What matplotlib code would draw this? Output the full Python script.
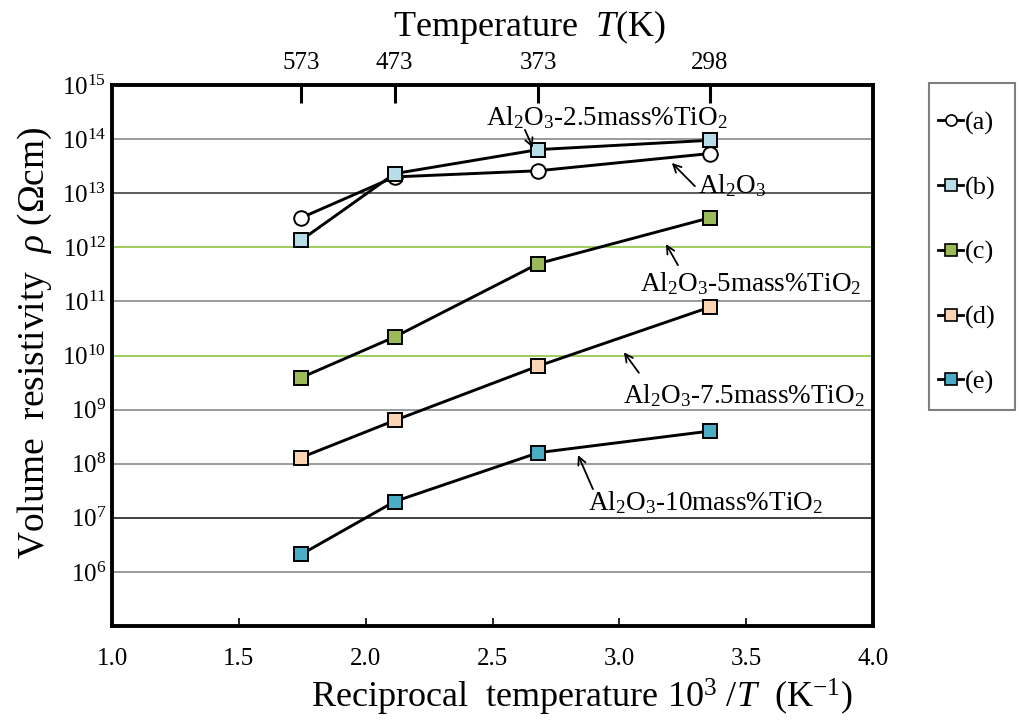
import numpy as np
import matplotlib
matplotlib.use("Agg")
import matplotlib.pyplot as plt
from matplotlib.lines import Line2D
from matplotlib.patches import Rectangle

plt.rcParams["font.family"] = ["Liberation Serif", "DejaVu Serif"]
plt.rcParams["mathtext.fontset"] = "custom"
plt.rcParams["mathtext.rm"] = "Liberation Serif"
plt.rcParams["mathtext.it"] = "Liberation Serif:italic"

# measurement temperatures (K) and reciprocal 10^3/T
temps = [573, 473, 373, 298]
recip = [1000.0 / t for t in temps]

# volume resistivity (ohm cm)
rho_a = [3.5e12, 2.0e13, 2.6e13, 5.4e13]   # Al2O3
rho_b = [1.35e12, 2.3e13, 6.4e13, 9.5e13]  # 2.5 mass% TiO2
rho_c = [3.9e9, 2.2e10, 5.0e11, 3.5e12]    # 5 mass% TiO2
rho_d = [1.3e8, 6.3e8, 6.4e9, 7.8e10]      # 7.5 mass% TiO2
rho_e = [2.1e6, 2.0e7, 1.6e8, 4.0e8]       # 10 mass% TiO2

series_labels = ["(a)", "(b)", "(c)", "(d)", "(e)"]
series_data = [rho_a, rho_b, rho_c, rho_d, rho_e]
markers = ["o", "s", "s", "s", "s"]
colors = ["white", "#b7dde8", "#9bbb59", "#fbd4b4", "#4bacc6"]

decades = list(range(6, 16))
x_ticks = [1.5, 2.0, 2.5, 3.0, 3.5]
x_ticklabels = ["1.0", "1.5", "2.0", "2.5", "3.0", "3.5", "4.0"]

fig = plt.figure(figsize=(10.19, 7.22), dpi=100)
ax = fig.add_axes([112 / 1019, 1 - 626 / 722, 761 / 1019, 541 / 722])
ax.set_xlim(1.0, 4.0)
ax.set_yscale("log")
ax.set_ylim(1e5, 1e15)

# horizontal grid lines, two of them highlighted in green
grid_col = {12: "#8cc63f", 10: "#8cc63f", 13: "#404040", 7: "#202020"}
for d in decades[:-1]:
    ax.axhline(10.0 ** d, color=grid_col.get(d, "#8a8a8a"), lw=1.2, zorder=1)

for y, m, c in zip(series_data, markers, colors):
    ax.plot(recip, y, "-", color="black", lw=2.1, marker=m, ms=10.5,
            mfc=c, mec="black", mew=1.4, zorder=3)

for s in ax.spines.values():
    s.set_linewidth(2.8)

ax.yaxis.set_major_locator(matplotlib.ticker.FixedLocator([10.0 ** d for d in decades]))
ax.yaxis.set_minor_locator(matplotlib.ticker.NullLocator())
ax.set_yticklabels([r"$10^{%d}$" % d for d in decades])
ax.tick_params(axis="y", length=0, labelsize=18, pad=4)

ax.set_xticks([1.0] + x_ticks + [4.0])
ax.set_xticklabels(x_ticklabels)
ax.tick_params(axis="x", direction="in", length=6, width=1.2, labelsize=18, pad=16)

# top axis in temperature
top = ax.twiny()
top.set_xlim(ax.get_xlim())
top.set_xticks(recip)
top.set_xticklabels([str(t) for t in temps])
top.tick_params(axis="x", direction="in", length=13, width=2.2, labelsize=18, pad=8)
for s in top.spines.values():
    s.set_visible(False)

# labels
fig.text(530 / 1019, 1 - 27 / 722, r"Temperature  $T$(K)", ha="center", va="center", fontsize=26)
fig.text(582 / 1019, 1 - 697 / 722, r"Reciprocal  temperature 10$^3$ /$T$  (K$^{-1}$)",
         ha="center", va="center", fontsize=26)
fig.text(35 / 1019, 1 - 343 / 722, r"Volume  resistivity  $\rho$ (Ωcm)",
         ha="center", va="center", rotation=90, fontsize=27)

# curve annotations: (text, text pos, arrow tail, arrow head) in data coords
notes = [
    (r"Al$_2$O$_3$-2.5mass%TiO$_2$", (2.951, 14.39), (2.628, 14.17), (2.659, 13.84)),
    (r"Al$_2$O$_3$", (3.444, 13.14), (3.298, 13.13), (3.207, 13.56)),
    (r"Al$_2$O$_3$-5mass%TiO$_2$", (3.519, 11.33), (3.231, 11.67), (3.184, 12.06)),
    (r"Al$_2$O$_3$-7.5mass%TiO$_2$", (3.491, 9.26), (3.077, 9.68), (3.018, 10.06)),
    (r"Al$_2$O$_3$-10mass%TiO$_2$", (3.341, 7.28), (2.896, 7.53), (2.837, 8.16)),
]
for txt, tp, tail, head in notes:
    ax.text(tp[0], 10 ** tp[1], txt, ha="center", va="center", fontsize=19.5, zorder=5)
    ax.annotate("", xy=(head[0], 10 ** head[1]), xytext=(tail[0], 10 ** tail[1]),
                arrowprops=dict(arrowstyle="->", color="black", lw=1.3,
                                shrinkA=0, shrinkB=0, mutation_scale=14), zorder=5)

# legend without its own frame, boxed by a separate rectangle
handles = [Line2D([0], [0], color="black", lw=2.0, marker=m, ms=8, mfc=c,
                  mec="black", mew=1.2) for m, c in zip(markers, colors)]
leg = fig.legend(handles, series_labels, loc="upper left",
                 bbox_to_anchor=(938 / 1019, 1 - 111 / 722), fontsize=19,
                 handlelength=0.95, handletextpad=0.05, labelspacing=1.55,
                 borderpad=0, borderaxespad=0, frameon=False)
fig.patches.append(Rectangle((929 / 1019, 1 - 410 / 722), 86 / 1019, 327 / 722,
                             transform=fig.transFigure, fill=False,
                             edgecolor="#808080", lw=1.5))

fig.savefig("out.png", dpi=100)
